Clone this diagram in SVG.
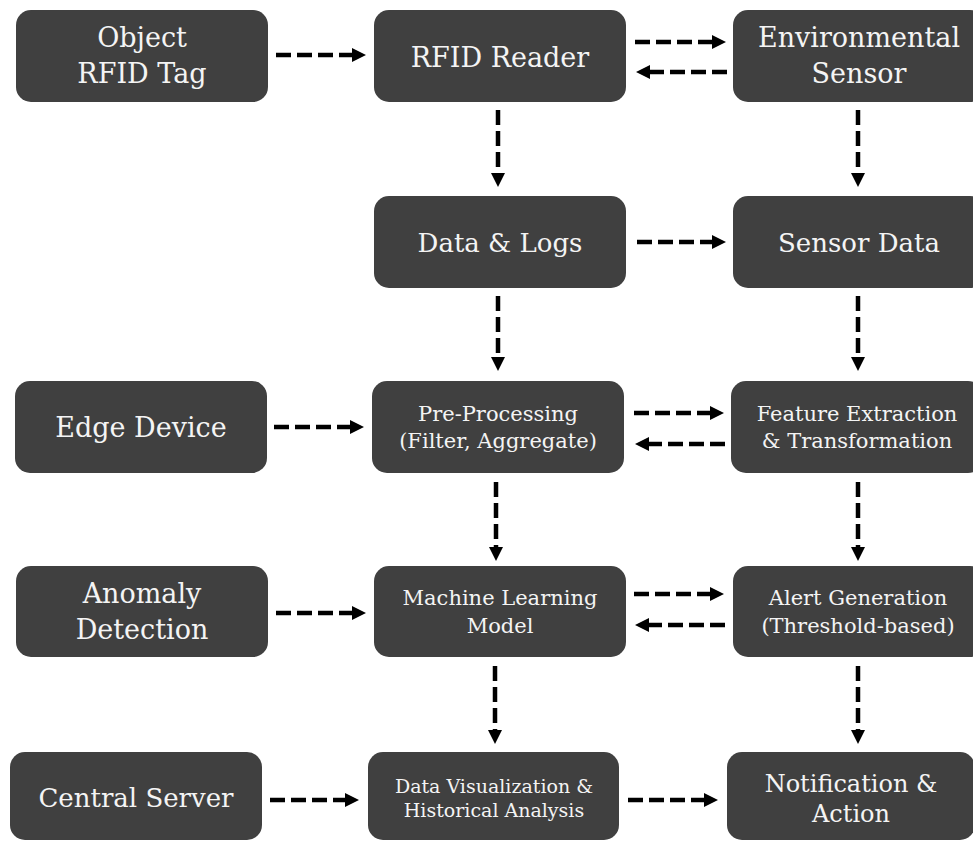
<svg xmlns="http://www.w3.org/2000/svg" width="973" height="842" viewBox="0 0 973 842">
<style>
.box{fill:#404040;}
.t{font-family:"DejaVu Serif","Liberation Serif",serif;fill:#f4f4f4;text-anchor:middle;}
.l{font-size:27px;}
.k{font-size:26px;}
.n{font-size:24px;}
.m{font-size:21px;}
.s{font-size:19px;}
.c{stroke:#000;stroke-width:4.5;stroke-dasharray:15 6;fill:none;marker-end:url(#ah);}
</style>
<defs>
<marker id="ah" markerUnits="userSpaceOnUse" markerWidth="14" markerHeight="14" refX="1" refY="7" orient="auto">
<path d="M0,0 L14,7 L0,14 z" fill="#000"/>
</marker>
</defs>
<rect width="973" height="842" fill="#fff"/>
<g id="tag"><rect class="box" x="16" y="10" width="252" height="92" rx="15"/><text class="t l" x="142" y="47">Object</text><text class="t l" x="142" y="83">RFID Tag</text></g>
<g id="reader"><rect class="box" x="374" y="10" width="252" height="92" rx="15"/><text class="t l" x="500" y="67">RFID Reader</text></g>
<g id="env"><rect class="box" x="733" y="10" width="252" height="92" rx="15"/><text class="t l" x="859" y="47">Environmental</text><text class="t l" x="859" y="83">Sensor</text></g>
<g id="datalogs"><rect class="box" x="374" y="196" width="252" height="92" rx="15"/><text class="t k" x="500" y="252">Data &amp; Logs</text></g>
<g id="sensordata"><rect class="box" x="733" y="196" width="252" height="92" rx="15"/><text class="t k" x="859" y="252">Sensor Data</text></g>
<g id="edge"><rect class="box" x="15" y="381" width="252" height="92" rx="15"/><text class="t l" x="141" y="437">Edge Device</text></g>
<g id="preproc"><rect class="box" x="372" y="381" width="252" height="92" rx="15"/><text class="t m" x="498" y="421">Pre-Processing</text><text class="t m" x="498" y="448">(Filter, Aggregate)</text></g>
<g id="feature"><rect class="box" x="731" y="381" width="252" height="92" rx="15"/><text class="t m" x="857" y="421">Feature Extraction</text><text class="t m" x="857" y="448">&amp; Transformation</text></g>
<g id="anomaly"><rect class="box" x="16" y="566" width="252" height="91" rx="15"/><text class="t l" x="142" y="603">Anomaly</text><text class="t l" x="142" y="639">Detection</text></g>
<g id="ml"><rect class="box" x="374" y="566" width="252" height="91" rx="15"/><text class="t m" x="500" y="605">Machine Learning</text><text class="t m" x="500" y="633">Model</text></g>
<g id="alert"><rect class="box" x="733" y="566" width="252" height="91" rx="15"/><text class="t m" x="858" y="605">Alert Generation</text><text class="t m" x="858" y="633">(Threshold-based)</text></g>
<g id="central"><rect class="box" x="10" y="752" width="252" height="88" rx="15"/><text class="t k" x="136" y="807">Central Server</text></g>
<g id="datavis"><rect class="box" x="368" y="752" width="251" height="88" rx="15"/><text class="t s" x="494" y="793">Data Visualization &amp;</text><text class="t s" x="494" y="817">Historical Analysis</text></g>
<g id="notif"><rect class="box" x="727" y="752" width="248" height="88" rx="15"/><text class="t n" x="851" y="792">Notification &amp;</text><text class="t n" x="851" y="822">Action</text></g>
<g id="connectors">
<line class="c" x1="276" y1="55" x2="353" y2="55"/>
<line class="c" x1="635" y1="42" x2="713" y2="42"/>
<line class="c" x1="727" y1="72" x2="649" y2="72"/>
<line class="c" x1="498" y1="110" x2="498" y2="174"/>
<line class="c" x1="858" y1="110" x2="858" y2="174"/>
<line class="c" x1="637" y1="242" x2="713" y2="242"/>
<line class="c" x1="498" y1="296" x2="498" y2="358"/>
<line class="c" x1="858" y1="296" x2="858" y2="358"/>
<line class="c" x1="274" y1="427" x2="351" y2="427"/>
<line class="c" x1="634" y1="413" x2="711" y2="413"/>
<line class="c" x1="725" y1="444" x2="648" y2="444"/>
<line class="c" x1="496" y1="482" x2="496" y2="548"/>
<line class="c" x1="858" y1="482" x2="858" y2="548"/>
<line class="c" x1="276" y1="613" x2="353" y2="613"/>
<line class="c" x1="634" y1="594" x2="711" y2="594"/>
<line class="c" x1="725" y1="625" x2="648" y2="625"/>
<line class="c" x1="495" y1="666" x2="495" y2="731"/>
<line class="c" x1="858" y1="666" x2="858" y2="731"/>
<line class="c" x1="270" y1="800" x2="346" y2="800"/>
<line class="c" x1="628" y1="800" x2="705" y2="800"/>
</g>
</svg>
